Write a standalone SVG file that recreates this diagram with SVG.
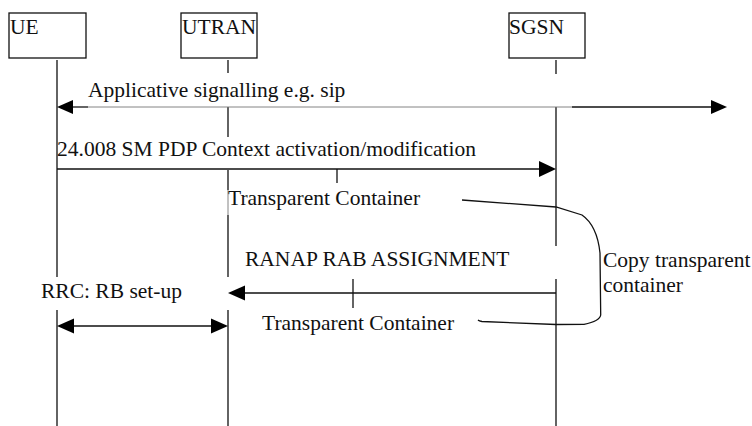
<svg xmlns="http://www.w3.org/2000/svg" width="752" height="426" viewBox="0 0 752 426">
  <style>
    .box { fill: #fff; stroke: #111; stroke-width: 1.3; }
    .life { stroke: #111; stroke-width: 1.3; fill: none; }
    .msg { stroke: #111; stroke-width: 1.3; fill: none; }
    .faint { stroke: #777; stroke-width: 0.9; fill: none; }
    .head { fill: #000; }
    text { font-family: "Liberation Serif", "Times New Roman", serif; font-size: 21.5px; fill: #111; }
  </style>

  <!-- entity boxes -->
  <g id="ue">
    <rect class="box" x="9" y="13" width="77" height="45"/>
    <text x="10" y="34">UE</text>
  </g>
  <g id="utran">
    <rect class="box" x="181" y="13" width="76" height="45"/>
    <text x="182" y="34">UTRAN</text>
  </g>
  <g id="sgsn">
    <rect class="box" x="509" y="13" width="76" height="45"/>
    <text x="509" y="34">SGSN</text>
  </g>

  <!-- lifelines, broken where labels sit on them -->
  <g id="lifelines">
    <path class="life" d="M57,60 V277 M57,310 V426"/>
    <path class="life" d="M228,60 V73 M228,107 V137 M228,170 V190 M228,215 V277 M228,310 V426"/>
    <path class="faint" d="M228,190 V215"/>
    <path class="life" d="M556,60 V74 M556,107 V246 M556,279 V426"/>
  </g>

  <!-- messages -->
  <g id="connectors">
    <!-- applicative signalling, both directions -->
    <path class="msg" d="M70,107 H88"/>
    <path class="faint" d="M88,107 H572"/>
    <path class="msg" d="M572,107 H714"/>
    <polygon class="head" points="57,107 73,100 73,114"/>
    <polygon class="head" points="727,107 711,100 711,114"/>

    <!-- 24.008 SM PDP context activation -->
    <path class="msg" d="M57,169 H542"/>
    <polygon class="head" points="556,169 539,161 539,177"/>
    <path class="msg" d="M337,169 V183"/>

    <!-- RANAP RAB assignment -->
    <path class="msg" d="M556,293 H242"/>
    <polygon class="head" points="228,293 245,285.5 245,300.5"/>
    <path class="msg" d="M353,279 V308"/>

    <!-- RRC RB set-up, both directions -->
    <path class="msg" d="M70,326 H215"/>
    <polygon class="head" points="57,326 74,318.5 74,333.5"/>
    <polygon class="head" points="228,326 211,318.5 211,333.5"/>

    <!-- copy transparent container bracket -->
    <path class="msg" d="M462,200 L556,207 L582,215 C592,222 598,234 600,253 L600.7,315 Q600,321 584,324.3 L556,324.5 L482,321.5 Q479,321 478,320"/>
  </g>

  <!-- labels -->
  <g id="labels">
    <text x="88" y="97">Applicative signalling e.g. sip</text>
    <text x="57" y="156">24.008 SM PDP Context activation/modification</text>
    <text x="228" y="205">Transparent Container</text>
    <text x="245" y="266">RANAP RAB ASSIGNMENT</text>
    <text x="41" y="298">RRC: RB set-up</text>
    <text x="262" y="330">Transparent Container</text>
    <text x="603" y="267">Copy transparent</text>
    <text x="603" y="292">container</text>
  </g>
</svg>
